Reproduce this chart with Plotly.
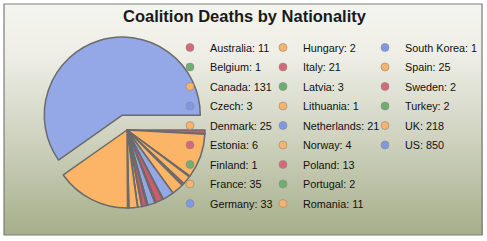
import base64
import plotly.graph_objects as go

countries = ["Australia", "Belgium", "Canada", "Czech", "Denmark", "Estonia", "Finland",
             "France", "Germany", "Hungary", "Italy", "Latvia", "Lithuania", "Netherlands",
             "Norway", "Poland", "Portugal", "Romania", "South Korea", "Spain", "Sweden",
             "Turkey", "UK", "US"]
deaths = [11, 1, 131, 3, 25, 6, 1, 35, 33, 2, 21, 3, 1, 21, 4, 13, 2, 11, 1, 25, 2, 2, 218, 850]
hue_cycle = ["red", "green", "orange", "blue", "orange"]
title_text = "Coalition Deaths by Nationality"

slice_colors = {"red": "#cf5a6c", "green": "#6aa86a", "orange": "#fcb567", "blue": "#94a8e8"}
icon_colors = {"red": "#d46a78", "green": "#6fae6f", "orange": "#fbb26a", "blue": "#7f98e4"}

hues = [hue_cycle[i % len(hue_cycle)] for i in range(len(countries))]
pulls = [0.2 if c == "US" else 0 for c in countries]

W, H = 487, 241

fig = go.Figure()

fig.add_trace(go.Pie(
    labels=countries, values=deaths, sort=False, direction="clockwise", rotation=90,
    pull=pulls, textinfo="none", showlegend=False, hoverinfo="label+value",
    marker=dict(colors=[slice_colors[h] for h in hues], line=dict(color="#6b6b6b", width=1.5)),
    domain=dict(x=[33.4 / W, 220.6 / W], y=[(H - 223.6) / H, (H - 36.4) / H]),
))

rows = 9
for i, (c, v) in enumerate(zip(countries, deaths)):
    col = i // rows
    leg = "legend" if col == 0 else f"legend{col + 1}"
    fig.add_trace(go.Scatter(
        x=[None], y=[None], mode="markers", name=f"{c}: {v}", legend=leg,
        legendgroup=c,
        marker=dict(symbol="circle", size=8, color=icon_colors[hues[i]],
                    line=dict(color="#8a8a8a", width=0.6)),
    ))

# gradient background image
svg = f'''<svg xmlns="http://www.w3.org/2000/svg" width="{W}" height="{H}" preserveAspectRatio="none">
<defs><linearGradient id="g" x1="0" y1="0" x2="0" y2="1">
<stop offset="0" stop-color="#f5f5f0"/><stop offset="0.22" stop-color="#eeeee6"/>
<stop offset="0.6" stop-color="#cdd1bd"/><stop offset="1" stop-color="#a6ae8a"/>
</linearGradient></defs><rect width="{W}" height="{H}" fill="url(#g)"/></svg>'''
src = "data:image/svg+xml;base64," + base64.b64encode(svg.encode()).decode()

legend_font = dict(family="Liberation Sans, Arial, sans-serif", size=10.8, color="#111111")
leg_common = dict(xanchor="left", yanchor="top", bgcolor="rgba(0,0,0,0)", borderwidth=0,
                  font=legend_font, tracegroupgap=0.5, itemwidth=30)
top_y = (H - 33) / H

fig.update_layout(
    width=W, height=H, margin=dict(l=0, r=0, t=0, b=0),
    paper_bgcolor="white", plot_bgcolor="rgba(0,0,0,0)",
    xaxis=dict(visible=False), yaxis=dict(visible=False),
    title=dict(text=f"<b>{title_text}</b>", x=0.502, xanchor="center", y=1 - 16 / H, yanchor="middle",
               font=dict(family="Liberation Sans, Arial, sans-serif", size=16.5, color="#1a1a1a")),
    legend=dict(x=170 / W, y=top_y, **leg_common),
    legend2=dict(x=263 / W, y=top_y, **leg_common),
    legend3=dict(x=365 / W, y=top_y, **leg_common),
    images=[dict(source=src, xref="paper", yref="paper", x=4 / W, y=1 - 4 / H,
                 sizex=479 / W, sizey=231 / H, xanchor="left", yanchor="top",
                 sizing="stretch", layer="below")],
    shapes=[dict(type="rect", xref="paper", yref="paper", x0=4 / W, x1=482 / W,
                 y0=1 - 235 / H, y1=1 - 4 / H, line=dict(color="#7c7c7c", width=1.2),
                 fillcolor="rgba(0,0,0,0)", layer="above")],
)

fig.write_html("out.html")
